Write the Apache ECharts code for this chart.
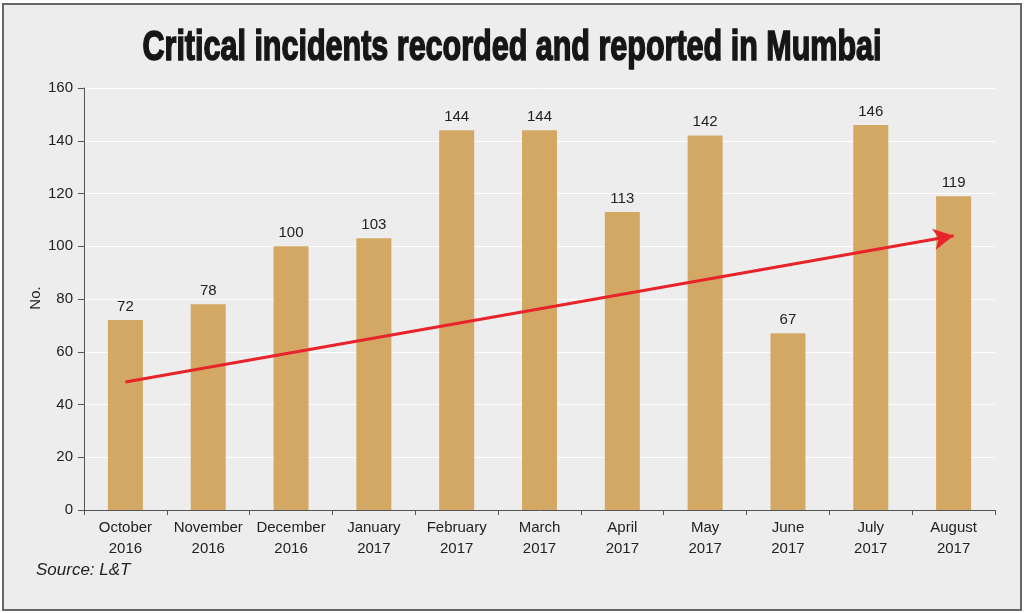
<!DOCTYPE html>
<html>
<head>
    <meta charset="utf-8">
    <title>Critical incidents recorded and reported in Mumbai</title>
    <script src="https://cdn.jsdelivr.net/npm/echarts@6/dist/echarts.min.js"></script>
    <style>
        html, body { margin: 0; padding: 0; background: #fff; }
        #frame {
            position: absolute; left: 2px; top: 3px; width: 1016px; height: 604px;
            border: 2px solid #666; background: #eeedee;
        }
        #chart { position: absolute; left: 0; top: 0; width: 1024px; height: 613px; }
    </style>
</head>
<body>
    <div id="frame"></div>
    <div id="chart"></div>
    <script>
        // data
        var months = ['October\n2016', 'November\n2016', 'December\n2016', 'January\n2017', 'February\n2017',
            'March\n2017', 'April\n2017', 'May\n2017', 'June\n2017', 'July\n2017', 'August\n2017'];
        var incidents = [72, 78, 100, 103, 144, 144, 113, 142, 67, 146, 119];
        // trend arrow: [category index, value]
        var trendStart = [0, 48.5];
        var trendEnd = [10, 104];

        var titleText = 'Critical incidents recorded and reported in Mumbai';
        var titleFont = 'bold 42px "Liberation Sans", Arial, sans-serif';
        var baseFont = '"Liberation Sans", Arial, sans-serif';

        // squeeze the title to a condensed look
        var ctx = document.createElement('canvas').getContext('2d');
        ctx.font = titleFont;
        var titleScale = 739 / ctx.measureText(titleText).width;

        var myChart = echarts.init(document.getElementById('chart'));

        var option = {
            backgroundColor: 'transparent',
            textStyle: { fontFamily: baseFont },
            graphic: [{
                type: 'text',
                x: 512,
                y: 48,
                scaleX: titleScale,
                style: {
                    text: titleText,
                    font: titleFont,
                    fill: '#161616',
                    stroke: '#161616',
                    lineWidth: 1.6,
                    align: 'center',
                    verticalAlign: 'middle'
                }
            }, {
                // y axis title
                type: 'text',
                x: 36,
                y: 298,
                rotation: Math.PI / 2,
                style: {
                    text: 'No.',
                    font: '15px "Liberation Sans", Arial, sans-serif',
                    fill: '#222',
                    align: 'center',
                    verticalAlign: 'middle'
                }
            }, {
                type: 'text',
                left: 36,
                top: 562,
                style: {
                    text: 'Source: L&T',
                    font: 'italic 17px "Liberation Sans", Arial, sans-serif',
                    fill: '#222'
                }
            }],
            grid: { left: 84, right: 29, top: 88, bottom: 103 },
            xAxis: {
                type: 'category',
                data: months,
                axisLine: { lineStyle: { color: '#555', width: 1 } },
                axisTick: { show: true, length: 5, lineStyle: { color: '#555' } },
                axisLabel: { color: '#222', fontFamily: baseFont, fontSize: 15, lineHeight: 21, margin: 7, interval: 0 }
            },
            yAxis: {
                type: 'value',
                min: 0,
                max: 160,
                interval: 20,
                axisLine: { show: true, lineStyle: { color: '#555', width: 1 } },
                axisTick: { show: true, length: 6, lineStyle: { color: '#555' } },
                axisLabel: { color: '#222', fontFamily: baseFont, fontSize: 15, margin: 11 },
                splitLine: { lineStyle: { color: '#ffffff', width: 1 } }
            },
            series: [{
                type: 'bar',
                data: incidents,
                barWidth: 35,
                itemStyle: { color: '#d3a865' },
                label: { show: true, position: 'top', distance: 6, color: '#222', fontFamily: baseFont, fontSize: 15 },
                markLine: {
                    silent: true,
                    symbol: ['none', 'arrow'],
                    symbolSize: [16, 20],
                    label: { show: false },
                    lineStyle: { color: '#e8232a', width: 3, type: 'solid' },
                    data: [[{ coord: trendStart }, { coord: trendEnd }]]
                }
            }]
        };

        myChart.setOption(option);
    </script>
</body>
</html>
